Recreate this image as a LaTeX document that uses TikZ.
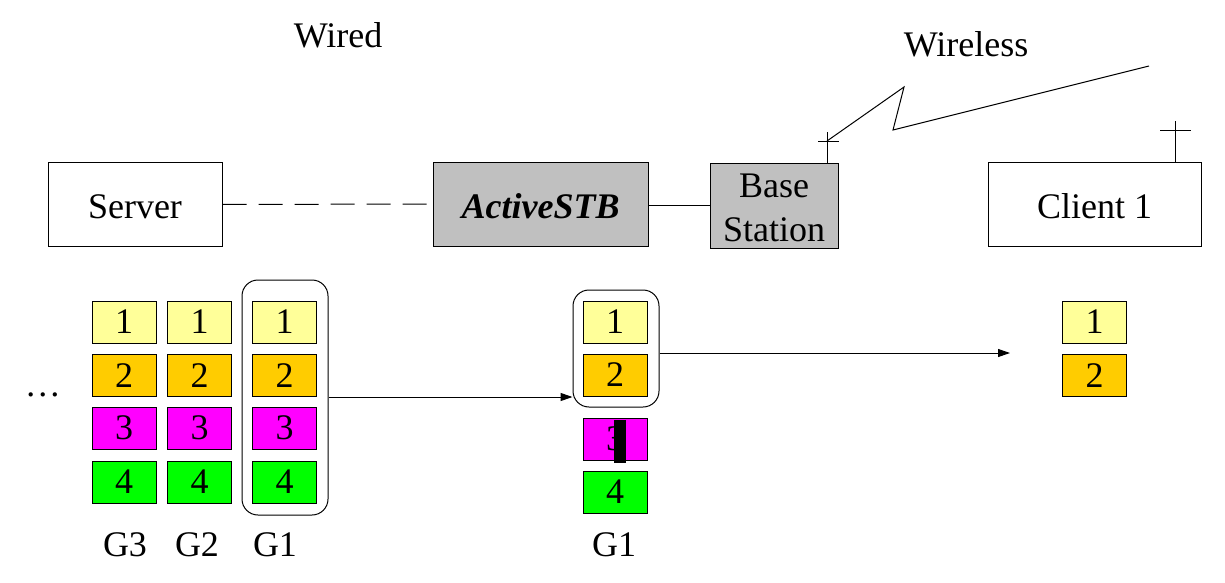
\documentclass[tikz,border=0pt]{standalone}
\usepackage{fontspec}
\setmainfont{Liberation Serif}
\usetikzlibrary{arrows.meta,calc}
\definecolor{pyel}{HTML}{FFFF99}
\definecolor{pora}{HTML}{FFCC00}
\definecolor{pmag}{HTML}{FF00FF}
\definecolor{pgrn}{HTML}{00FF00}
\definecolor{boxgray}{HTML}{C0C0C0}
\newcommand{\lowstrut}{\rule{0pt}{14.5pt}}
\begin{document}
\begin{tikzpicture}[x=0.5pt,y=-0.5pt,line width=0.5pt,
  every node/.style={font=\fontsize{18}{21.6}\selectfont},
  devbox/.style={draw,minimum height=42pt,inner sep=0pt,align=center},
  pkt/.style={draw,minimum width=32pt,minimum height=21pt,inner sep=0pt},
  grp/.style={draw,rounded corners=8pt,inner sep=0pt},
  lbl/.style={inner sep=0pt},
  arr/.style={-{Triangle[length=6pt,width=4pt]}}]
\useasboundingbox (0,0) rectangle (1225,583);
% devices
\node[devbox,minimum width=87pt] (server) at (135,204.5) {\lowstrut Server};
\node[devbox,minimum width=107.5pt,fill=boxgray] (stb) at (540.5,204) {\lowstrut\textbf{\textit{ActiveSTB}}};
\node[devbox,minimum width=64pt,minimum height=42.5pt,fill=boxgray,font=\fontsize{18}{22}\selectfont] (bs) at (774,205.5) {\lowstrut Base\\Station};
\node[devbox,minimum width=106.5pt] (client) at (1094.5,204.5) {\lowstrut Client 1};
\draw[dash pattern=on 12pt off 6pt] (server.east) -- (stb.west);
\draw (stb.east |- 0,205) -- (bs.west |- 0,205);
% antennas
\coordinate (bsant) at (827,132);
\coordinate (bsx) at (827,141);
\draw (bsant |- bs.north) -- (bsant);
\draw (818,141) -- (839,141);
\coordinate (z1) at (904,87);
\coordinate (z2) at (893,130);
\coordinate (z3) at (1149,66);
\draw (bsx) -- (z1) -- (z2) -- (z3);
\coordinate (clant) at (1175,121);
\draw (clant |- client.north) -- (clant);
\draw (1160,130) -- (1191,130);
% labels
\node[lbl] (wired) at (338,35) {Wired};
\node[lbl] (wireless) at (966,44) {Wireless};
% left packets
\foreach \c/\x in {3/124,2/199.5,1/284.5}{
  \node[pkt,fill=pyel] (p\c a) at (\x,322) {1};
  \node[pkt,fill=pora] (p\c b) at (\x,375.5) {2};
  \node[pkt,fill=pmag] (p\c c) at (\x,428) {3};
  \node[pkt,fill=pgrn] (p\c d) at (\x,482) {4};
}
\node[lbl] (dots) at (43,395) {\dots};
\node[lbl] (lg3) at (125,545) {G3};
\node[lbl] (lg2) at (197,545) {G2};
\node[lbl] (lg1) at (275,545) {G1};
\node[grp,minimum width=43pt,minimum height=117.5pt] (grp1) at (285,397.5) {};
% middle packets
\node[pkt,fill=pyel] (ma) at (615,322) {1};
\node[pkt,fill=pora] (mb) at (615,375) {2};
\node[pkt,fill=pmag] (mc) at (615,439) {3};
\node[pkt,fill=pgrn] (md) at (615,492) {4};
\fill (614,420) rectangle (626,463);
\node[grp,minimum width=43pt,minimum height=58.5pt] (grp2) at (616,348.5) {};
\node[lbl] (lm) at (614,545) {G1};
% right packets
\node[pkt,fill=pyel] (ra) at (1094.5,322) {1};
\node[pkt,fill=pora] (rb) at (1094.5,375.5) {2};
% arrows
\draw[arr] (grp1.east |- 0,397) -- (grp2.west |- 0,397);
\coordinate (aend) at (1010,353);
\draw[arr] (grp2.east |- aend) -- (aend);
\end{tikzpicture}
\end{document}
